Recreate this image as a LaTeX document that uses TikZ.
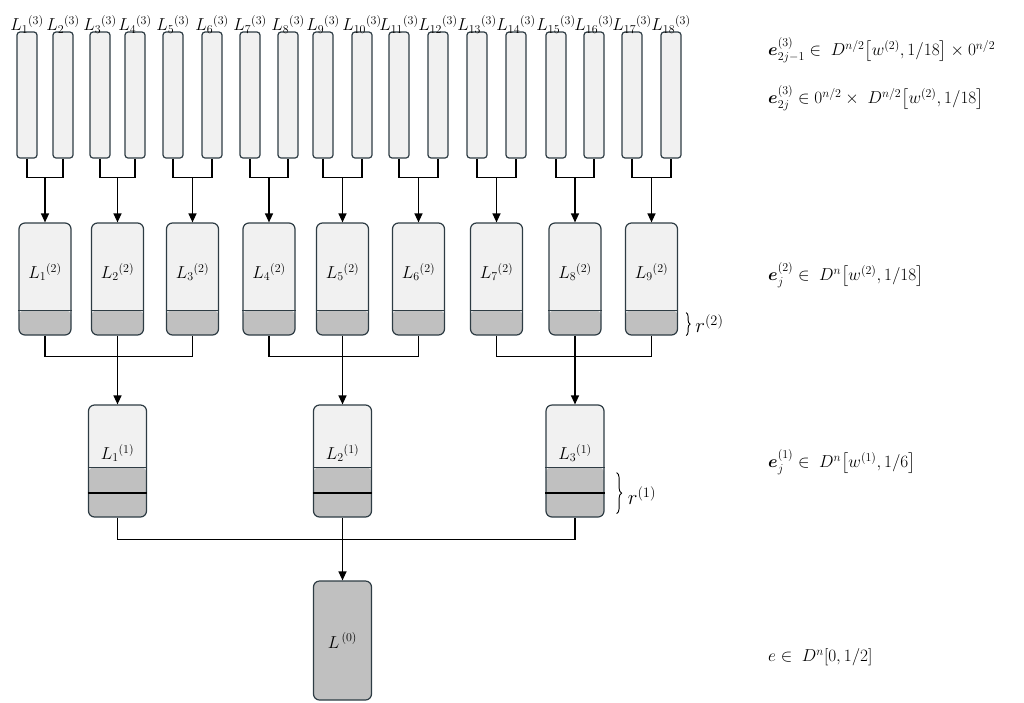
\documentclass[tikz,border=0pt]{standalone}
\usepackage{amsmath,amssymb,bm}
\usepackage{tikz}
\usetikzlibrary{arrows.meta,positioning,calc,decorations.pathreplacing}
\definecolor{edgegray}{HTML}{2E3C44}
\definecolor{lightfill}{HTML}{F1F1F1}
\definecolor{darkfill}{HTML}{C0C0C0}
\tikzset{
  tier/.style={draw=edgegray, line width=1.2pt, rounded corners=#1, fill=lightfill, inner sep=0pt},
  graypart/.style={path picture={\fill[darkfill] (path picture bounding box.south west) rectangle ($(path picture bounding box.south east)+(0pt,#1)$);}}
}

\begin{document}
\begin{tikzpicture}[x=1pt, y=-1pt, >={Triangle[length=9pt, width=8pt]},
  bar/.style={tier=3pt, minimum width=20pt, minimum height=126pt},
  boxtwo/.style={tier=6pt, graypart=25pt, minimum width=52pt, minimum height=112pt},
  boxone/.style={tier=6pt, graypart=50pt, minimum width=58pt, minimum height=112pt},
  boxzero/.style={tier=6pt, fill=darkfill, minimum width=58pt, minimum height=119pt, font=\LARGE},
  lbl/.style={font=\LARGE, inner sep=1pt},
  bracket/.style={draw, line width=1.6pt},
  link/.style={draw, line width=1.3pt},
  arrow/.style={draw, line width=1.3pt, ->},
  sepline/.style={draw=edgegray, line width=1.2pt},
  boldsep/.style={draw=black, line width=2pt},
  curly/.style={decorate, decoration={brace, amplitude=#1}, line width=0.9pt},
  eqn/.style={font=\LARGE, anchor=west, inner sep=0pt}]
\useasboundingbox (0,0) rectangle (1024,702);
% level 3
\foreach \x [count=\i] in {27,63,100,135,173,212,250,288,323,362,399,438,477,516,556,594,632,671}
  \node[bar, label={[lbl, yshift=-3pt]above:$L_{\i}{}^{(3)}$}] (b3-\i) at (\x,95) {};
% level 2
\foreach \i in {1,...,9}{
  \pgfmathtruncatemacro\a{2*\i-1}
  \pgfmathtruncatemacro\b{2*\i}
  \coordinate (j3-\i) at ($(b3-\a.south)!0.5!(b3-\b.south)+(0,19)$);
  \draw[bracket] (b3-\a.south) |- (j3-\i) -| (b3-\b.south);
  \node[boxtwo] (b2-\i) at (j3-\i |- 0,279) {};
  \draw[sepline] ($(b2-\i.south west)+(0pt,25pt)$) -- ($(b2-\i.south east)+(0pt,25pt)$);
  \node[lbl] (t2-\i) at ($(b2-\i.center)+(0,-7)$) {$L_{\i}{}^{(2)}$};
  \draw[arrow] (j3-\i) -- (b2-\i.north);
}
% level 1
\foreach \k in {1,2,3}{
  \pgfmathtruncatemacro\a{3*\k-2}
  \pgfmathtruncatemacro\b{3*\k-1}
  \pgfmathtruncatemacro\c{3*\k}
  \draw[link] (b2-\a.south) -- ++(0,21) -| (b2-\c.south);
  \node[boxone] (b1-\k) at (b2-\b.south |- 0,461) {};
  \draw[sepline] ($(b1-\k.south west)+(0pt,50pt)$) -- ($(b1-\k.south east)+(0pt,50pt)$);
  \draw[boldsep] ($(b1-\k.south west)+(0pt,25pt)$) -- ($(b1-\k.south east)+(0pt,25pt)$);
  \node[lbl] (t1-\k) at ($(b1-\k.center)+(0,-8)$) {$L_{\k}{}^{(1)}$};
  \draw[arrow] (b2-\b.south) -- (b1-\k.north);
}
% level 0
\draw[link] (b1-1.south) -- ++(0,22) -| (b1-3.south);
\node[boxzero] (b0) at (b1-2.south |- 0,640.5) {$L^{\,(0)}$};
\draw[arrow] (b1-2.south) -- (b0.north);
% braces
\draw[curly=4pt] ($(b2-9.south east)+(8pt,23pt)$) -- ($(b2-9.south east)+(8pt,0pt)$);
\node[lbl, font=\huge, anchor=west] (r2) at ($(b2-9.south east)+(16pt,12pt)$) {$r^{(2)}$};
\draw[curly=5pt] ($(b1-3.south east)+(12pt,45pt)$) -- ($(b1-3.south east)+(12pt,4pt)$);
\node[lbl, font=\huge, anchor=west] (r1) at ($(b1-3.south east)+(22pt,22pt)$) {$r^{(1)}$};
% formulas
\node[eqn] (f3a) at (768,50) {$\boldsymbol{e}^{(3)}_{2j-1}\in\; D^{n/2}\big[w^{(2)},1/18\big]\times 0^{n/2}$};
\node[eqn] (f3b) at (768,98) {$\boldsymbol{e}^{(3)}_{2j}\in 0^{n/2}\times\; D^{n/2}\big[w^{(2)},1/18\big]$};
\node[eqn] (f2) at (768,275) {$\boldsymbol{e}^{(2)}_{j}\in\; D^{n}\big[w^{(2)},1/18\big]$};
\node[eqn] (f1) at (768,462) {$\boldsymbol{e}^{(1)}_{j}\in\; D^{n}\big[w^{(1)},1/6\big]$};
\node[eqn] (f0) at (768,657) {$e\in\; D^{n}[0,1/2]$};
\end{tikzpicture}
\end{document}
